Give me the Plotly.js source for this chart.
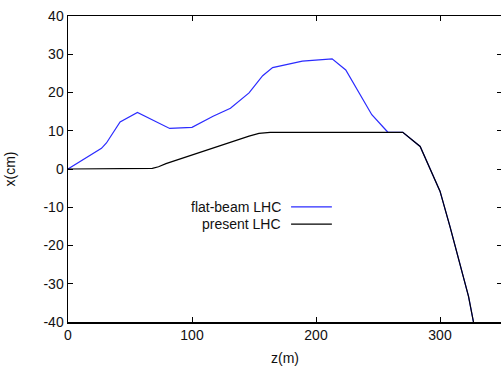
<!DOCTYPE html>
<html>
<head>
<meta charset="utf-8">
<script src="https://cdn.plot.ly/plotly-3.0.1.min.js"></script>
<style>
html,body{margin:0;padding:0;overflow:hidden;background:#fff;}
#chart{width:502px;height:366px;}
</style>
</head>
<body>
<div id="chart"></div>
<script>
// Data
const flatZ = [0, 27, 31, 42, 56, 82, 100, 117, 131, 146, 157, 165, 189, 213, 224, 245, 258, 270, 284, 300, 308, 316, 323, 327];
const flatX = [0, 5.4, 6.8, 12.3, 14.8, 10.6, 10.9, 13.8, 15.9, 19.9, 24.4, 26.5, 28.2, 28.8, 25.9, 14.2, 9.6, 9.6, 5.9, -5.8, -15, -24.5, -33.3, -40];
const presentZ = [0, 63, 68, 73, 79, 146, 154, 163, 270, 284, 300, 308, 316, 323, 327];
const presentX = [0, 0, 0.15, 0.6, 1.4, 8.6, 9.3, 9.6, 9.6, 5.9, -5.8, -15, -24.5, -33.3, -40];
const seriesNames = ["flat-beam LHC", "present LHC"];
const seriesColors = ["#2b2bff", "#000000"];
const xTicks = [0, 100, 200, 300];
const yTicks = [-40, -30, -20, -10, 0, 10, 20, 30, 40];

const font = {family: "Liberation Sans, Arial, sans-serif", size: 14, color: "#111"};

const traces = [
  {x: flatZ, y: flatX, mode: "lines", name: seriesNames[0], line: {color: seriesColors[0], width: 1.2}, showlegend: false},
  {x: presentZ, y: presentX, mode: "lines", name: seriesNames[1], line: {color: seriesColors[1], width: 1.2}, showlegend: false}
];

const axisCommon = {
  showgrid: false, zeroline: false, showline: true, linecolor: "#000", linewidth: 1.5,
  mirror: "ticks", ticks: "inside", ticklen: 5, tickcolor: "#000", tickwidth: 1,
  tickfont: font
};

const legendY = [0.376, 0.320];
const annotations = seriesNames.map((n, i) => ({
  xref: "paper", yref: "paper", x: 0.495, y: legendY[i], text: n, showarrow: false,
  xanchor: "right", yanchor: "middle", font: font
}));
const shapes = seriesNames.map((n, i) => ({
  type: "line", xref: "paper", yref: "paper", x0: 0.514, x1: 0.608, y0: legendY[i], y1: legendY[i],
  line: {color: seriesColors[i], width: 1.2}
}));

const layout = {
  width: 502, height: 366,
  margin: {l: 68, r: 0, t: 16, b: 44, pad: 0},
  paper_bgcolor: "#fff", plot_bgcolor: "#fff",
  font: font,
  showlegend: false,
  xaxis: Object.assign({}, axisCommon, {range: [0, 350], tickvals: xTicks, ticktext: xTicks.map(String),
    title: {text: "z(m)", font: font, standoff: 12}}),
  yaxis: Object.assign({}, axisCommon, {range: [-40, 40], tickvals: yTicks, ticktext: yTicks.map(String),
    title: {text: "x(cm)", font: font, standoff: 24}}),
  annotations: annotations,
  shapes: shapes
};

Plotly.newPlot("chart", traces, layout, {staticPlot: true, displayModeBar: false});
</script>
</body>
</html>
